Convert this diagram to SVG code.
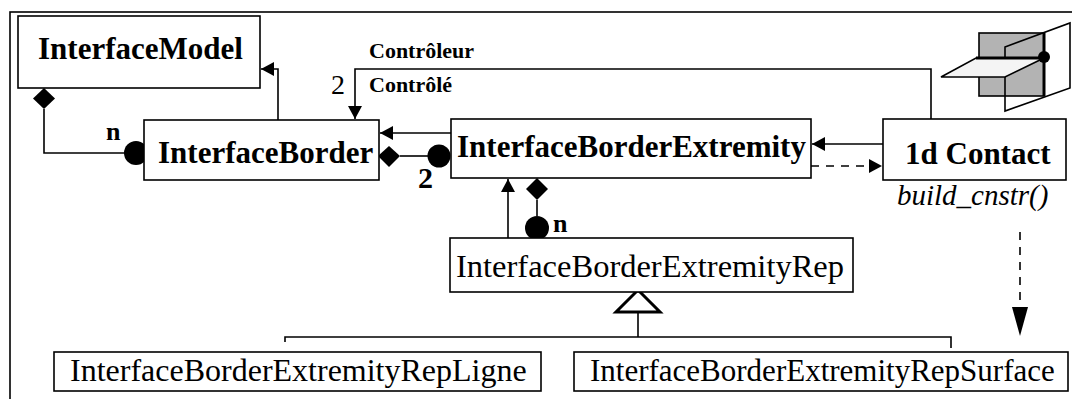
<svg xmlns="http://www.w3.org/2000/svg" width="1072" height="399" viewBox="0 0 1072 399">
  <style>
    .box { fill: #ffffff; stroke: #000000; stroke-width: 1.6; }
    .line { fill: none; stroke: #000000; stroke-width: 1.6; }
    .dash { fill: none; stroke: #000000; stroke-width: 1.6; stroke-dasharray: 8 7; }
    .bold { font-family: "Liberation Serif", "Times New Roman", serif; font-weight: bold; fill: #000000; }
    .reg { font-family: "Liberation Serif", "Times New Roman", serif; fill: #000000; }
    .ital { font-family: "Liberation Serif", "Times New Roman", serif; font-style: italic; fill: #000000; }
    .solid { fill: #000000; stroke: none; }
  </style>
  <defs>
    <marker id="arrow" markerUnits="userSpaceOnUse" markerWidth="14" markerHeight="14" refX="13" refY="7" orient="auto">
      <path d="M0,0 L13,7 L0,14 Z" fill="#000000"/>
    </marker>
    <marker id="arrowLong" markerUnits="userSpaceOnUse" markerWidth="30" markerHeight="18" refX="29" refY="8" orient="auto">
      <path d="M0,0 L29,8 L0,16 Z" fill="#000000"/>
    </marker>
  </defs>

  <!-- outer frame -->
  <rect x="10" y="12" width="1080" height="400" fill="#ffffff" stroke="#000000" stroke-width="1.6"/>

  <!-- 1D contact sketch: two planes meeting along an edge -->
  <g id="contact-sketch">
    <rect x="979" y="33" width="65" height="63" fill="#b3b3b3" stroke="#000000" stroke-width="1.6"/>
    <polygon points="1005,47 1070,23 1070,88 1005,111" fill="none" stroke="#000000" stroke-width="1.6"/>
    <polygon points="941,77 976,58 1044,58 1005,77" fill="#f4f4f4" stroke="#000000" stroke-width="1.6"/>
    <line x1="976" y1="58" x2="1044" y2="58" stroke="#000000" stroke-width="3"/>
    <line x1="1044" y1="33" x2="1044" y2="96" stroke="#000000" stroke-width="3"/>
    <circle cx="1044" cy="57" r="6" class="solid"/>
  </g>

  <!-- connectors -->
  <g id="connectors">
    <!-- InterfaceBorder to InterfaceModel -->
    <path class="line" d="M278,120 V69 H261" marker-end="url(#arrow)"/>
    <!-- InterfaceModel aggregates n InterfaceBorder -->
    <path class="line" d="M44,109 V153 H125"/>
    <polygon class="solid" points="44,88 55,98.5 44,109 33,98.5"/>
    <circle class="solid" cx="136" cy="153" r="12"/>
    <text class="bold" x="106" y="140" font-size="26">n</text>
    <!-- controller / controlled link -->
    <path class="line" d="M931,119 V69 H355 V119" marker-end="url(#arrow)"/>
    <text class="reg" x="331" y="94" font-size="28">2</text>
    <text class="bold" x="369" y="58" font-size="22">Contrôleur</text>
    <text class="bold" x="369" y="92" font-size="22">Contrôlé</text>
    <!-- InterfaceBorderExtremity to InterfaceBorder -->
    <path class="line" d="M451,133 H380" marker-end="url(#arrow)"/>
    <!-- InterfaceBorder aggregates 2 extremities -->
    <path class="line" d="M400,156 H428"/>
    <polygon class="solid" points="378,156 389,146 400,156 389,167"/>
    <circle class="solid" cx="439" cy="156" r="11.5"/>
    <text class="bold" x="418" y="188" font-size="30">2</text>
    <!-- 1d Contact to InterfaceBorderExtremity -->
    <path class="line" d="M883,144 H812" marker-end="url(#arrow)"/>
    <!-- dependency from InterfaceBorderExtremity to 1d Contact -->
    <path class="dash" d="M811,166 H882" marker-end="url(#arrow)"/>
    <!-- representation to extremity -->
    <path class="line" d="M508,238 V179" marker-end="url(#arrow)"/>
    <path class="line" d="M537,200 V216"/>
    <polygon class="solid" points="537,178 548,189 537,200 526,189"/>
    <circle class="solid" cx="537" cy="228" r="12"/>
    <text class="bold" x="553" y="232" font-size="26">n</text>
    <!-- generalisation -->
    <path class="line" d="M638,312 V337 M285,342 V337 H951 V348"/>
    <polygon points="638,290 660,312 616,312" fill="#ffffff" stroke="#000000" stroke-width="3"/>
    <!-- build_cnstr() dependency -->
    <path class="dash" d="M1020,232 V336" marker-end="url(#arrowLong)"/>
  </g>

  <g id="InterfaceModel">
    <rect class="box" x="18" y="16" width="242" height="72"/>
    <text class="bold" x="38" y="59" font-size="31">InterfaceModel</text>
  </g>

  <g id="InterfaceBorder">
    <rect class="box" x="144" y="120" width="235" height="60"/>
    <text class="bold" x="158" y="163" font-size="31">InterfaceBorder</text>
  </g>

  <g id="InterfaceBorderExtremity">
    <rect class="box" x="451" y="119" width="360" height="59"/>
    <text class="bold" x="457" y="157" font-size="31">InterfaceBorderExtremity</text>
  </g>

  <g id="Contact1d">
    <rect class="box" x="883" y="119" width="183" height="61"/>
    <text class="bold" x="905" y="164" font-size="31">1d Contact</text>
    <text class="ital" x="897" y="205" font-size="29">build_cnstr()</text>
  </g>

  <g id="InterfaceBorderExtremityRep">
    <rect class="box" x="450" y="238" width="403" height="54"/>
    <text class="reg" x="456" y="277" font-size="32.5">InterfaceBorderExtremityRep</text>
  </g>

  <g id="InterfaceBorderExtremityRepLigne">
    <rect class="box" x="54" y="352" width="487" height="39"/>
    <text class="reg" x="70" y="381" font-size="32">InterfaceBorderExtremityRepLigne</text>
  </g>

  <g id="InterfaceBorderExtremityRepSurface">
    <rect class="box" x="574" y="352" width="494" height="39"/>
    <text class="reg" x="590" y="381" font-size="31">InterfaceBorderExtremityRepSurface</text>
  </g>
</svg>
